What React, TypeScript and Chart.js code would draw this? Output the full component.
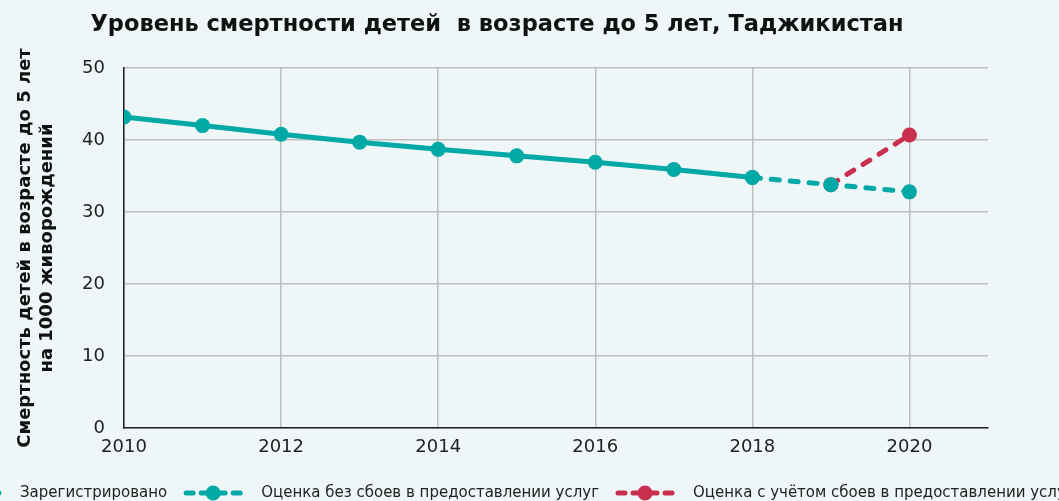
import React, { useEffect, useRef } from "react";
import { Chart, registerables } from "chart.js";

Chart.register(...registerables);

const TITLE = "Уровень смертности детей  в возрасте до 5 лет, Таджикистан";
const Y_TITLE = ["Смертность детей в возрасте до 5 лет", "на 1000 живорождений"];

const registeredYears = [2010, 2011, 2012, 2013, 2014, 2015, 2016, 2017, 2018];
const registeredValues = [43.2, 42.0, 40.8, 39.7, 38.7, 37.8, 36.9, 35.9, 34.8];

const noDisruptionYears = [2018, 2019, 2020];
const noDisruptionValues = [34.8, 33.8, 32.8];

const withDisruptionYears = [2019, 2020];
const withDisruptionValues = [33.8, 40.7];

const SERIES_LABELS = [
  "Зарегистрировано",
  "Оценка без сбоев в предоставлении услуг",
  "Оценка с учётом сбоев в предоставлении услуг",
];

const TEAL = "#00A9A5";
const RED = "#C9304F";
const BG = "#EEF6F7";
const FONT = "'DejaVu Sans', sans-serif";

const toPoints = (xs: number[], ys: number[]) => xs.map((x, i) => ({ x, y: ys[i] }));

const overlayPlugin = {
  id: "overlay",
  afterDraw(chart: any) {
    const ctx = chart.ctx as CanvasRenderingContext2D;
    ctx.save();
    // Title
    ctx.fillStyle = "#111";
    ctx.font = `bold 22.5px ${FONT}`;
    ctx.textAlign = "center";
    ctx.textBaseline = "middle";
    ctx.fillText(TITLE, 497, 25);

    // Legend
    const items = [
      { label: SERIES_LABELS[0], color: TEAL },
      { label: SERIES_LABELS[1], color: TEAL },
      { label: SERIES_LABELS[2], color: RED },
    ];
    ctx.font = `15px ${FONT}`;
    const markerW = 60;
    const gapText = 18;
    const gapItem = 16;
    const widths = items.map((it) => markerW + gapText + ctx.measureText(it.label).width);
    let x = 20 - markerW - gapText;
    const y = 493;
    items.forEach((it, i) => {
      ctx.strokeStyle = it.color;
      ctx.fillStyle = it.color;
      ctx.lineWidth = 5;
      ctx.lineCap = "round";
      const segs = [
        [x + 3, x + 10],
        [x + 18, x + 26],
        [x + 34, x + 42],
        [x + 50, x + 57],
      ];
      segs.forEach(([a, b]) => {
        ctx.beginPath();
        ctx.moveTo(a, y);
        ctx.lineTo(b, y);
        ctx.stroke();
      });
      ctx.beginPath();
      ctx.arc(x + markerW / 2, y, 7.5, 0, Math.PI * 2);
      ctx.fill();
      ctx.fillStyle = "#222";
      ctx.textAlign = "left";
      ctx.textBaseline = "middle";
      ctx.fillText(it.label, x + markerW + gapText, y);
      x += widths[i] + gapItem;
    });
    ctx.restore();
  },
};

export default function App() {
  const ref = useRef<HTMLCanvasElement>(null);
  useEffect(() => {
    if (!ref.current) return;
    const chart = new Chart(ref.current, {
      type: "line",
      data: {
        datasets: [
          {
            label: SERIES_LABELS[0],
            data: toPoints(registeredYears, registeredValues),
            borderColor: TEAL,
            backgroundColor: TEAL,
            borderWidth: 5,
            pointRadius: 7.5,
            pointHoverRadius: 7.5,
            pointBorderWidth: 0,
            tension: 0,
          },
          {
            label: SERIES_LABELS[1],
            data: toPoints(noDisruptionYears, noDisruptionValues),
            borderColor: TEAL,
            backgroundColor: TEAL,
            borderWidth: 5,
            borderDash: [8, 11],
            borderCapStyle: "round",
            pointRadius: 7.5,
            pointBorderWidth: 0,
            tension: 0,
          },
          {
            label: SERIES_LABELS[2],
            data: toPoints(withDisruptionYears, withDisruptionValues),
            borderColor: RED,
            backgroundColor: RED,
            borderWidth: 5,
            borderDash: [8, 11],
            borderCapStyle: "round",
            pointRadius: 7.5,
            pointBorderWidth: 0,
            tension: 0,
          },
        ],
      },
      plugins: [overlayPlugin],
      options: {
        animation: false,
        responsive: false,
        layout: { padding: { top: 68, right: 71, left: 0, bottom: 0 } },
        plugins: {
          legend: { display: false },
          title: { display: false },
          tooltip: { enabled: false },
        },
        scales: {
          x: {
            type: "linear",
            min: 2010,
            max: 2021,
            ticks: {
              stepSize: 2,
              includeBounds: false,
              color: "#222",
              font: { family: FONT, size: 18 },
              padding: 9,
              maxRotation: 0,
              callback: (v: any) => String(v),
            },
            grid: { color: "#BDBDBD", lineWidth: 1.5, drawTicks: false },
            border: { color: "#222", width: 1.5 },
            afterFit: (s: any) => {
              s.height = 73;
            },
          },
          y: {
            min: 0,
            max: 50,
            ticks: {
              stepSize: 10,
              color: "#222",
              font: { family: FONT, size: 18 },
              padding: 19,
            },
            grid: { color: "#BDBDBD", lineWidth: 1.5, drawTicks: false },
            border: { color: "#222", width: 1.5 },
            title: {
              display: true,
              text: Y_TITLE,
              color: "#111",
              font: { family: FONT, size: 18, weight: "bold", lineHeight: 1.22 },
              padding: { top: 14, bottom: 0 },
            },
            afterFit: (s: any) => {
              s.width = 124;
            },
          },
        },
      },
    });
    return () => chart.destroy();
  }, []);
  return (
    <div style={{ position: "fixed", left: 0, top: 0, width: 1059, height: 501, background: BG, overflow: "hidden" }}>
      <canvas ref={ref} width={1059} height={501} style={{ width: 1059, height: 501, display: "block" }} />
    </div>
  );
}
